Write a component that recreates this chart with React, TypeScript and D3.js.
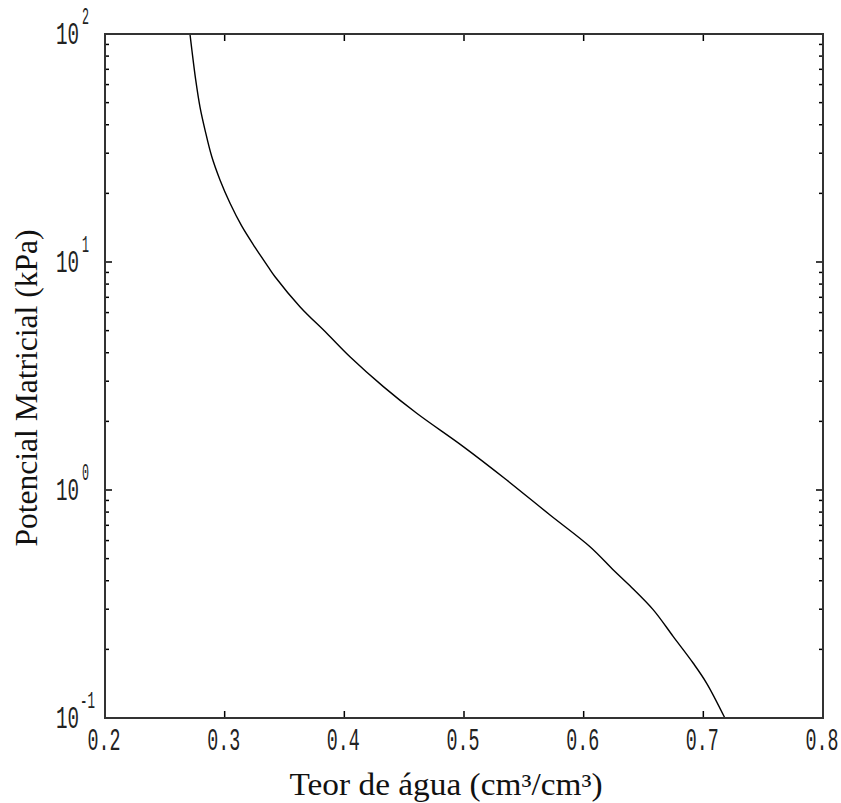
import React, { useEffect, useRef } from 'react'
import * as d3 from 'd3'

// retention curve: water content vs matric potential
const theta = [
  0.271, 0.2726, 0.2758, 0.2794, 0.2836, 0.2892, 0.2961, 0.3045, 0.3142, 0.3254,
  0.3365, 0.3421, 0.3629, 0.3853, 0.4047, 0.4326, 0.4605, 0.4994, 0.5357,
  0.5719, 0.6053, 0.6248, 0.6387, 0.6582, 0.6749, 0.6916, 0.7028, 0.718,
]
const psi = [
  100, 85.1, 62.9, 47.8, 37.9, 29.0, 22.9, 18.1, 14.4, 11.6,
  9.5, 8.62, 6.37, 4.87, 3.84, 2.84, 2.17, 1.55, 1.106,
  0.777, 0.564, 0.446, 0.38, 0.298, 0.2275, 0.1738, 0.142, 0.1,
]
const xTicks = [0.2, 0.3, 0.4, 0.5, 0.6, 0.7, 0.8]
const yDecades = [-1, 0, 1, 2]

export default function App() {
  const ref = useRef<SVGSVGElement>(null)

  useEffect(() => {
    const svg = d3.select(ref.current)
    svg.selectAll('*').remove()

    const left = 105, right = 823, top = 34, bottom = 718
    const x = d3.scaleLinear().domain([0.2, 0.8]).range([left, right])
    const y = d3.scaleLog().domain([0.1, 100]).range([bottom, top])

    const tickFont = '"Liberation Mono", monospace'
    const serif = '"Liberation Serif", "Times New Roman", serif'

    // curve
    const pts = theta.map((t, i) => [t, psi[i]] as [number, number])
    const line = d3.line<[number, number]>()
      .x(d => x(d[0]))
      .y(d => y(d[1]))
      .curve(d3.curveCatmullRom.alpha(0.5))
    svg.append('path')
      .datum(pts.slice().reverse())
      .attr('d', line)
      .attr('fill', 'none')
      .attr('stroke', '#000')
      .attr('stroke-width', 1.4)

    // x ticks (top & bottom, inside)
    xTicks.forEach(v => {
      if (v > 0.2 && v < 0.8) {
        svg.append('line').attr('x1', x(v)).attr('x2', x(v))
          .attr('y1', bottom).attr('y2', bottom - 7)
          .attr('stroke', '#000').attr('stroke-width', 1.5)
        svg.append('line').attr('x1', x(v)).attr('x2', x(v))
          .attr('y1', top).attr('y2', top + 7)
          .attr('stroke', '#000').attr('stroke-width', 1.5)
      }
      svg.append('text')
        .attr('x', x(v) - 1).attr('y', bottom + 32)
        .attr('text-anchor', 'middle')
        .attr('font-family', tickFont)
        .attr('font-size', 31)
        .attr('textLength', 33)
        .attr('lengthAdjust', 'spacingAndGlyphs')
        .attr('fill', '#222')
        .text(v.toFixed(1))
    })

    // y ticks (left & right, inside)
    yDecades.forEach(e => {
      const v = Math.pow(10, e)
      const yy = y(v)
      if (e > -1 && e < 2) {
        ;[[left, left + 7], [right, right - 7]].forEach(([a, b]) => {
          svg.append('line').attr('x1', a).attr('x2', b)
            .attr('y1', yy).attr('y2', yy)
            .attr('stroke', '#000').attr('stroke-width', 1.5)
        })
      }
      if (e < 2) {
        for (let m = 2; m <= 9; m++) {
          const my = y(m * v)
          ;[[left, left + 4], [right, right - 4]].forEach(([a, b]) => {
            svg.append('line').attr('x1', a).attr('x2', b)
              .attr('y1', my).attr('y2', my)
              .attr('stroke', '#000').attr('stroke-width', 1.5)
          })
        }
      }
      svg.append('text')
        .attr('x', 56).attr('y', yy + 10)
        .attr('font-family', tickFont)
        .attr('font-size', 31)
        .attr('textLength', 23)
        .attr('lengthAdjust', 'spacingAndGlyphs')
        .attr('fill', '#222')
        .text('10')
      const ex = String(e)
      svg.append('text')
        .attr('x', ex.length > 1 ? 80 : 82).attr('y', yy - 10)
        .attr('font-family', tickFont)
        .attr('font-size', 23)
        .attr('textLength', ex.length > 1 ? 15 : 7)
        .attr('lengthAdjust', 'spacingAndGlyphs')
        .attr('fill', '#222')
        .text(ex)
    })

    // frame
    svg.append('rect')
      .attr('x', left).attr('y', top)
      .attr('width', right - left).attr('height', bottom - top)
      .attr('fill', 'none')
      .attr('stroke', '#333')
      .attr('stroke-width', 2)

    // axis titles
    svg.append('text')
      .attr('x', 446).attr('y', 795)
      .attr('text-anchor', 'middle')
      .attr('font-family', serif)
      .attr('font-size', 31)
      .attr('textLength', 313)
      .attr('lengthAdjust', 'spacingAndGlyphs')
      .attr('fill', '#111')
      .text('Teor de água (cm³/cm³)')

    svg.append('text')
      .attr('transform', 'translate(37,388) rotate(-90)')
      .attr('text-anchor', 'middle')
      .attr('font-family', serif)
      .attr('font-size', 31)
      .attr('textLength', 317)
      .attr('lengthAdjust', 'spacingAndGlyphs')
      .attr('fill', '#111')
      .text('Potencial Matricial (kPa)')
  }, [])

  return (
    <svg
      ref={ref}
      width={841}
      height={803}
      style={{ position: 'absolute', left: 0, top: 0, background: '#fff' }}
    />
  )
}
